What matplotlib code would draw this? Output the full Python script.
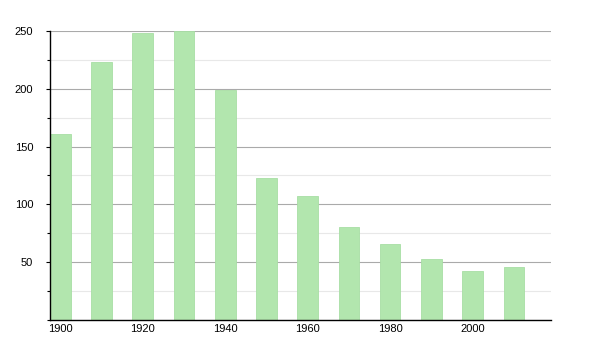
import matplotlib.pyplot as plt
from matplotlib.ticker import MultipleLocator

years = [1900, 1910, 1920, 1930, 1940, 1950, 1960, 1970, 1980, 1990, 2000, 2010]
population = [161, 223, 248, 250, 199, 123, 107, 80, 66, 53, 42, 46]

plt.rcParams['font.family'] = ['Liberation Sans', 'DejaVu Sans']

fig = plt.figure(figsize=(6, 3.5), dpi=100)
ax = fig.add_axes([0.0833, 0.0857, 0.835, 0.826])

ax.bar(years, population, width=5, color="#b2e6ae", edgecolor="#a8dea4", linewidth=0.6, zorder=2)

ax.set_xlim(1897.5, 2019)
ax.set_ylim(0, 250)
ax.set_xticks(range(1900, 2001, 20))
ax.yaxis.set_major_locator(MultipleLocator(50))
ax.yaxis.set_minor_locator(MultipleLocator(25))
ax.set_yticks([50, 100, 150, 200, 250])

ax.grid(axis="y", which="major", color="#aaaaaa", linewidth=0.8, zorder=0)
ax.grid(axis="y", which="minor", color="#e8e8e8", linewidth=0.8, zorder=0)
ax.set_axisbelow(True)

for s in ["top", "right"]:
    ax.spines[s].set_visible(False)
ax.spines["left"].set_linewidth(1.0)
ax.spines["bottom"].set_linewidth(1.0)

ax.tick_params(axis="x", length=0, labelsize=8, pad=3)
ax.tick_params(axis="y", which="major", length=3, width=0.8, labelsize=8, pad=9)
ax.tick_params(axis="y", which="minor", length=2, width=0.8)

fig.savefig("out.png", dpi=100)
